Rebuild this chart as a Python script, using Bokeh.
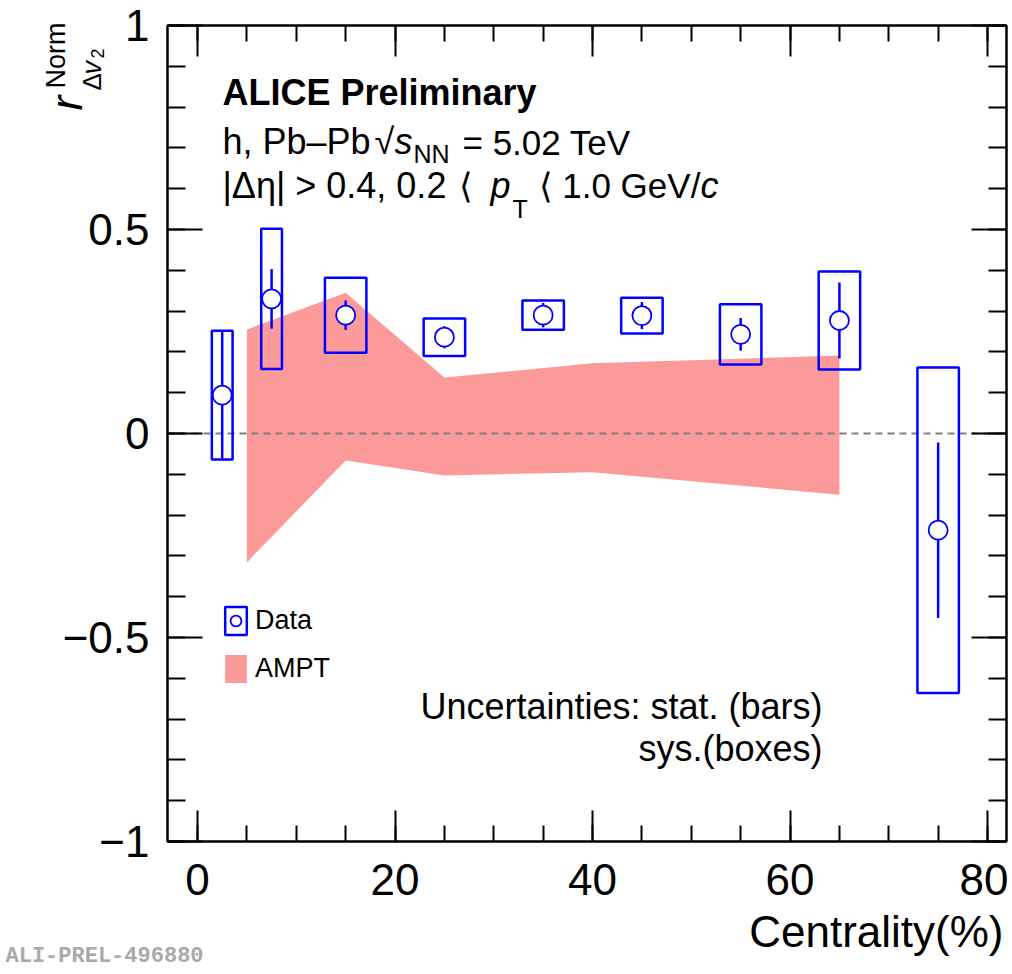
from bokeh.plotting import figure
from bokeh.models import (Range1d, LinearAxis, SingleIntervalTicker, Label, Span,
                          Legend, LegendItem, ColumnDataSource, GridBox, Column,
                          CustomJSTickFormatter)
from bokeh.embed import file_html
from bokeh.resources import INLINE

# ---------------- data ----------------
cent_lo = [0, 5, 10, 20, 30, 40, 50, 60, 70]
cent_hi = [5, 10, 20, 30, 40, 50, 60, 70, 80]
r_val = [0.094, 0.330, 0.290, 0.236, 0.290, 0.289, 0.243, 0.277, -0.237]
stat_err = [0.155, 0.073, 0.036, 0.027, 0.030, 0.033, 0.040, 0.093, 0.215]
sys_err = [0.158, 0.172, 0.092, 0.046, 0.036, 0.044, 0.074, 0.120, 0.399]

ampt_cent = [5, 15, 25, 40, 65]
ampt_hi = [0.255, 0.345, 0.137, 0.172, 0.191]
ampt_lo = [-0.316, -0.066, -0.103, -0.095, -0.150]

x_ticks_major = 20
y_ticks_major = 0.5

FONT = "Liberation Sans"
BLUE = "#0000ff"
PINK = "#fc9a9a"
W, H = 1008, 970

cent_mid = [(a + b) / 2 for a, b in zip(cent_lo, cent_hi)]
box_half = [0.21 * (b - a) for a, b in zip(cent_lo, cent_hi)]

src = ColumnDataSource(dict(
    x=cent_mid,
    y=r_val,
    left=[m - h for m, h in zip(cent_mid, box_half)],
    right=[m + h for m, h in zip(cent_mid, box_half)],
    top=[v + s for v, s in zip(r_val, sys_err)],
    bottom=[v - s for v, s in zip(r_val, sys_err)],
    slo=[v - s for v, s in zip(r_val, stat_err)],
    shi=[v + s for v, s in zip(r_val, stat_err)],
))
ampt_src = ColumnDataSource(dict(x=ampt_cent, y1=ampt_lo, y2=ampt_hi))

# ---------------- background canvas for texts outside the frame ----------------
bg = figure(width=W, height=H, x_range=Range1d(0, W), y_range=Range1d(H, 0),
            x_axis_type=None, y_axis_type=None,
            output_backend="svg", toolbar_location=None,
            min_border_left=0, min_border_right=0, min_border_top=0, min_border_bottom=0,
            background_fill_color="white", border_fill_color="white")
bg.outline_line_color = None

# ---------------- main figure ----------------
p = figure(width=W, height=H,
           x_range=Range1d(-3.04, 81.92), y_range=Range1d(-1, 1),
           output_backend="svg", toolbar_location=None,
           min_border_left=167, min_border_right=2,
           min_border_top=25, min_border_bottom=129)
p.background_fill_alpha = 0
p.border_fill_alpha = 0
p.xgrid.visible = False
p.ygrid.visible = False
p.outline_line_color = "black"
p.outline_line_width = 2


def style_axis(ax, tick_major, tick_minor, show_labels):
    ax.axis_line_width = 2
    ax.axis_line_color = "black"
    ax.major_tick_in = tick_major
    ax.major_tick_out = 0
    ax.minor_tick_in = tick_minor
    ax.minor_tick_out = 0
    ax.major_tick_line_width = 2
    ax.minor_tick_line_width = 2
    ax.major_tick_line_color = "black"
    ax.minor_tick_line_color = "black"
    if show_labels:
        ax.major_label_text_font = FONT
        ax.major_label_text_font_size = "44px"
        ax.major_label_text_color = "black"
    else:
        ax.formatter = CustomJSTickFormatter(code="return ''")
        ax.major_label_text_font_size = "0px"
        ax.major_label_standoff = 0


xa = p.xaxis[0]
xa.ticker = SingleIntervalTicker(interval=x_ticks_major, num_minor_ticks=4)
style_axis(xa, 31, 16, True)
xa.major_label_standoff = 22

ya = p.yaxis[0]
ya.ticker = SingleIntervalTicker(interval=y_ticks_major, num_minor_ticks=5)
style_axis(ya, 35, 18, True)
ya.major_label_standoff = 18
ya.major_label_overrides = {-1.0: "\u22121", -0.5: "\u22120.5", 0.0: "0", 0.5: "0.5", 1.0: "1"}

top_ax = LinearAxis(ticker=SingleIntervalTicker(interval=x_ticks_major, num_minor_ticks=4))
style_axis(top_ax, 31, 16, False)
p.add_layout(top_ax, "above")
right_ax = LinearAxis(ticker=SingleIntervalTicker(interval=y_ticks_major, num_minor_ticks=5))
style_axis(right_ax, 35, 18, False)
p.add_layout(right_ax, "right")

# ---------------- glyphs ----------------
band = p.varea(x="x", y1="y1", y2="y2", source=ampt_src, fill_color=PINK, fill_alpha=1.0)
band.level = "underlay"

zero = Span(location=0, dimension="width", line_color="#7f7f7f", line_width=2,
            line_dash="7 5", level="underlay")
p.add_layout(zero)

boxes = p.quad(left="left", right="right", top="top", bottom="bottom", source=src,
               fill_alpha=0, line_color=BLUE, line_width=2.5)
p.segment(x0="x", y0="slo", x1="x", y1="shi", source=src, line_color=BLUE, line_width=2.5)
marks = p.scatter(x="x", y="y", source=src, marker="circle", size=19,
                  fill_color="white", line_color=BLUE, line_width=1.8)

legend = Legend(items=[LegendItem(label="Data", renderers=[boxes, marks]),
                       LegendItem(label="AMPT", renderers=[band])],
                location=(55, 155), orientation="vertical",
                border_line_alpha=0, background_fill_alpha=0,
                padding=0, margin=0, spacing=13,
                glyph_width=27, glyph_height=35, label_standoff=6,
                label_text_font=FONT, label_text_font_size="27px",
                label_text_color="black", label_height=35)
p.add_layout(legend, "center")


# ---------------- texts ----------------
def lab(fig, x, y, text, size, style="normal", align="left", angle=0, color="black",
        font=FONT):
    fig.add_layout(Label(x=x, y=y, text=text,
                         text_font=font, text_font_size=size,
                         text_font_style=style, text_align=align,
                         text_baseline="alphabetic",
                         angle=angle, angle_units="deg", text_color=color))


# inside the frame (data coordinates of the main plot)
lab(p, 2.53, 0.835, "ALICE Preliminary", "36px", style="bold")

lab(p, 2.53, 0.715, "h, Pb\u2013Pb", "36px")
lab(p, 17.92, 0.715, "\u221a", "36px")
lab(p, 19.95, 0.715, "s", "36px", style="italic")
lab(p, 21.87, 0.685, "NN", "25px")
lab(p, 26.83, 0.714, "= 5.02 TeV", "35px")

lab(p, 2.53, 0.607, "|\u0394\u03b7| > 0.4, 0.2", "36px")
lab(p, 26.43, 0.607, "\u27e8", "35px")
lab(p, 29.67, 0.607, "p", "36px", style="italic")
lab(p, 31.90, 0.550, "T", "25px")
lab(p, 34.53, 0.607, "\u27e8 1.0 GeV/", "35px")
lab(p, 50.93, 0.607, "c", "36px", style="italic")

lab(p, 63.29, -0.670, "Uncertainties: stat. (bars)", "36px", align="right")
lab(p, 63.29, -0.773, "sys.(boxes)", "36px", align="right")

# outside the frame (pixel coordinates of the background canvas)
lab(bg, 1003, 931, "Centrality(%)", "44px", align="right")

lab(bg, 66, 110, "r", "44px", style="italic", angle=90)
lab(bg, 55, 88, "Norm", "27px", angle=90)
lab(bg, 91, 90, "\u0394", "26px", angle=90)
lab(bg, 91, 74, "v", "27px", style="italic", angle=90)
lab(bg, 97, 58, "2", "18px", angle=90)

lab(bg, 5, 956, "ALI-PREL-496880", "22px", style="bold", color="#aaaaaa",
    font="Liberation Mono")

layout = GridBox(children=[(Column(children=[bg]), 0, 0), (Column(children=[p]), 0, 0)])

open("out.html", "w").write(file_html(layout, INLINE))
